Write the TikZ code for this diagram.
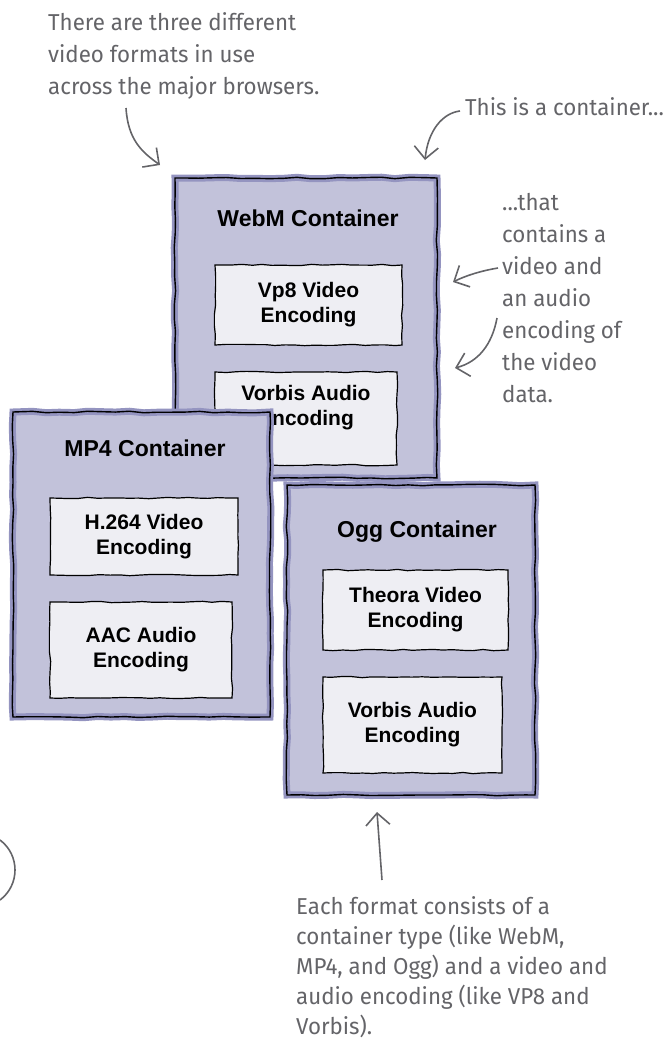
\documentclass[tikz,border=0pt]{standalone}
\usepackage{fontspec}
\setmainfont{Liberation Sans}
\newfontfamily\handfont[FakeStretch=0.97]{Fira Sans}
\usetikzlibrary{arrows.meta, positioning, decorations.pathmorphing}
\definecolor{contfill}{RGB}{194,194,218}
\definecolor{contedge}{RGB}{148,148,192}
\definecolor{encfill}{RGB}{238,238,243}
\definecolor{notegray}{RGB}{100,100,104}

\begin{document}
\begin{tikzpicture}[x=1pt, y=-1pt,
  container/.style={preaction={fill=contfill}, draw=contedge, line width=7pt,
                    postaction={draw=black, line width=1.4pt},
                    decorate, decoration={random steps, segment length=14pt, amplitude=0.8pt}},
  ctitle/.style={font=\bfseries\fontsize{23}{28}\selectfont, inner sep=0pt},
  encbox/.style={draw, line width=1.2pt, fill=encfill, align=center,
                 font=\bfseries\fontsize{21}{25}\selectfont,
                 decorate, decoration={random steps, segment length=10pt, amplitude=0.7pt}},
  note/.style={font=\handfont\fontsize{23}{32}\selectfont, text=notegray,
               align=left, inner sep=0pt, anchor=north west},
  arr/.style={draw=notegray, line width=1.6pt, -{Straight Barb[length=12pt, width=24pt]}},
  noteline/.style={draw=notegray, line width=1.6pt}]

  \useasboundingbox (0,0) rectangle (670,1045);

  % WebM
  \node[container, minimum width=262pt, minimum height=300pt] (webm) at (306,328) {};
  \node[ctitle] (webmT) at (308,218) {WebM Container};
  \node[encbox, minimum width=187pt, minimum height=80pt] (vp8) at (308.5,305) {Vp8 Video\\Encoding};
  \node[encbox, minimum width=182pt, minimum height=93pt, text depth=26pt] (webmA) at (306,418.5) {Vorbis Audio\\Encoding};

  % MP4
  \node[container, minimum width=257pt, minimum height=305pt] (mp4) at (141.5,564.5) {};
  \node[ctitle] (mp4T) at (145,448) {MP4 Container};
  \node[encbox, minimum width=188pt, minimum height=77pt] (h264) at (144,536.5) {H.264 Video\\Encoding};
  \node[encbox, minimum width=182pt, minimum height=96pt] (aac) at (141,650) {AAC Audio\\Encoding};

  % Ogg
  \node[container, minimum width=248pt, minimum height=310pt] (ogg) at (411,640) {};
  \node[ctitle] (oggT) at (417,532) {Ogg Container};
  \node[encbox, minimum width=185pt, minimum height=80pt] (theora) at (415.5,610) {Theora Video\\Encoding};
  \node[encbox, minimum width=179pt, minimum height=96pt] (oggA) at (412.5,725) {Vorbis Audio\\Encoding};

  % notes
  \node[note] (formats) at (48,12) {There are three different\\video formats in use\\across the major browsers.};
  \node[note, anchor=base west] (isCont) at (465,115) {This is a container...};
  \node[note] (contains) at (502,193) {...that\\contains a\\video and\\an audio\\encoding of\\the video\\data.};
  \node[note, font=\handfont\fontsize{23}{30}\selectfont] (consists) at (296,896) {Each format consists of a\\container type (like WebM,\\MP4, and Ogg) and a video and\\audio encoding (like VP8 and\\Vorbis).};

  \coordinate (a1s) at (126,108);  \coordinate (a1e) at (160,165);
  \coordinate (a2s) at (460,111);  \coordinate (a2e) at (425,160);
  \coordinate (a3s) at (498,268);  \coordinate (a3e) at (453,282);
  \coordinate (a4s) at (497,318);  \coordinate (a4e) at (455,368);
  \coordinate (a5s) at (382,880);  \coordinate (a5e) at (377,812);

  \draw[arr] (a1s) .. controls (128,140) and (142,152) .. (a1e);
  \draw[arr] (a2s) .. controls (443,113) and (428,130) .. (a2e);
  \draw[arr] (a3s) .. controls (480,271) and (465,276) .. (a3e);
  \draw[arr] (a4s) .. controls (492,345) and (478,362) .. (a4e);
  \draw[arr] (a5s) -- (a5e);

  % cut-off circle at the left edge
  \draw[noteline] (0,840) .. controls (20,855) and (20,885) .. (0,900);
\end{tikzpicture}
\end{document}
